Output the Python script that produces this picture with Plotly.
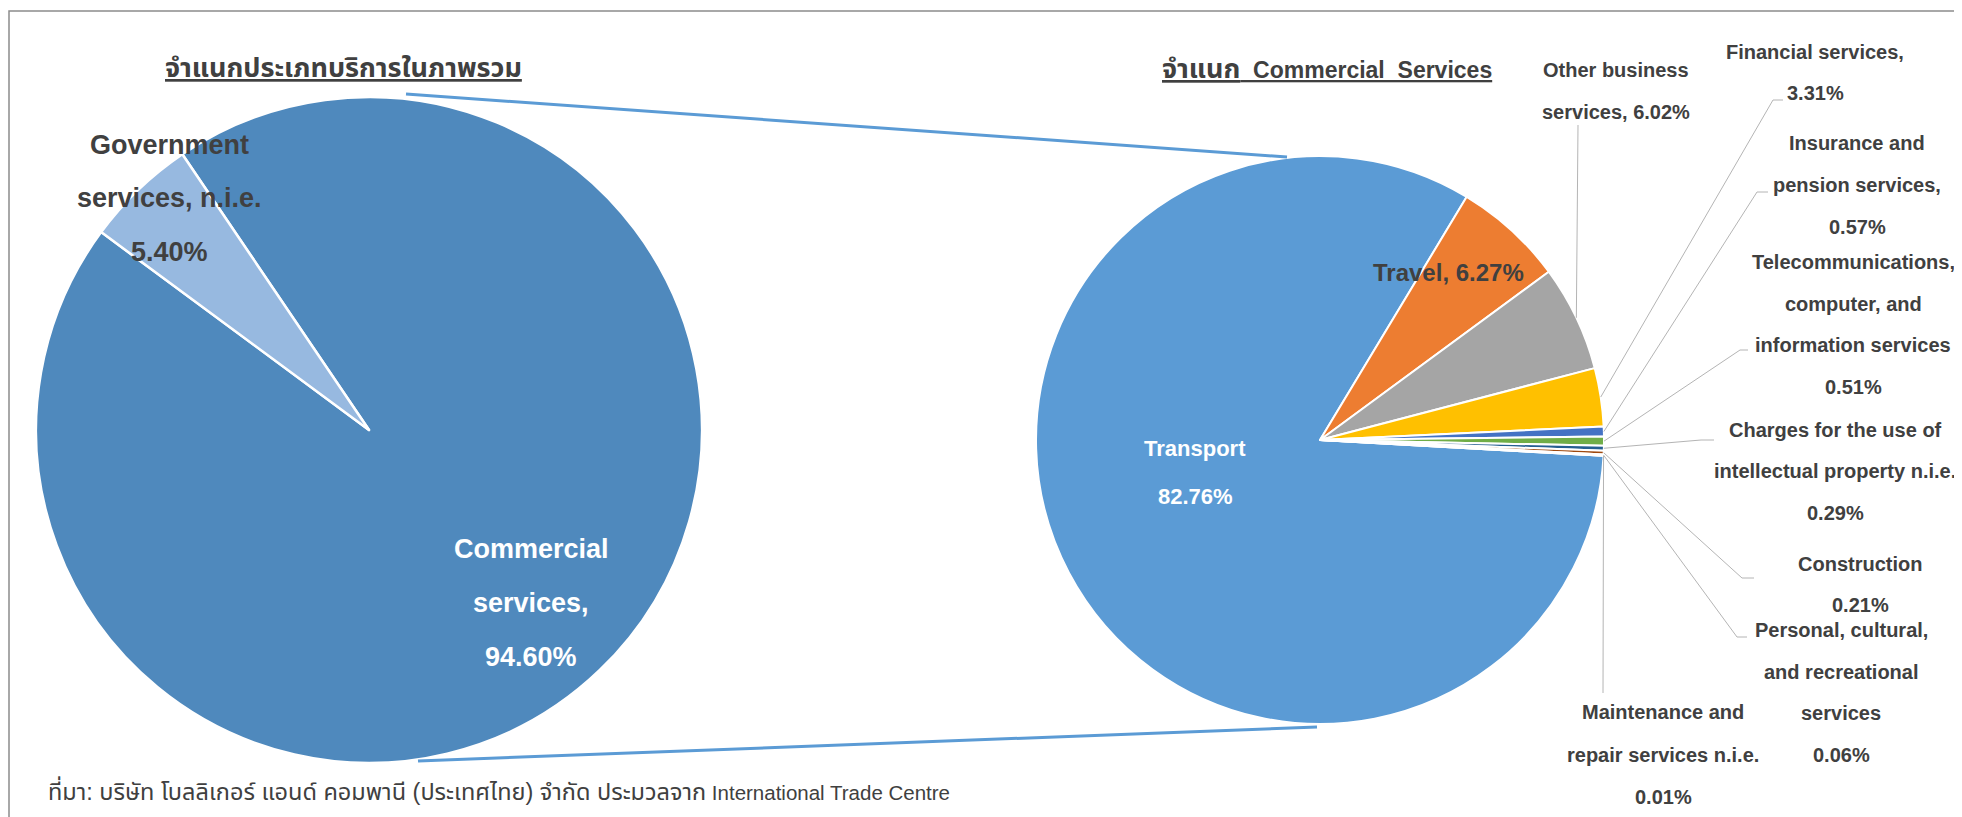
"""Thai services breakdown: overall pie and commercial-services pie."""

import math

import plotly.graph_objects as go

# page body has an 8px margin, so the figure sits at (8, 8) in the window
OFF = 8
W, H = 1962 - OFF, 817 - OFF

# overall split
overall_labels = ["Commercial services", "Government services, n.i.e."]
overall_shares = [94.60, 5.40]
overall_colors = ["#4F89BD", "#97B9E0"]

# commercial services split
commercial_labels = [
    "Transport",
    "Travel",
    "Other business services",
    "Financial services",
    "Insurance and pension services",
    "Telecommunications, computer, and information services",
    "Charges for the use of intellectual property n.i.e.",
    "Construction",
    "Personal, cultural, and recreational services",
    "Maintenance and repair services n.i.e.",
]
commercial_shares = [82.76, 6.27, 6.02, 3.31, 0.57, 0.51, 0.29, 0.21, 0.06, 0.01]
commercial_colors = ["#5B9BD5", "#ED7D31", "#A5A5A5", "#FFC000", "#4472C4",
                     "#70AD47", "#255E91", "#9E480E", "#636363", "#997300"]

# label text lines ({v} -> value)
overall_label_lines = [
    ["Commercial", "services,", "{v}"],
    ["Government", "services, n.i.e.", "{v}"],
]
commercial_label_lines = [
    ["Transport", "{v}"],
    ["Travel, {v}"],
    ["Other business", "services, {v}"],
    ["Financial services,", "{v}"],
    ["Insurance and", "pension services,", "{v}"],
    ["Telecommunications,", "computer, and", "information services", "{v}"],
    ["Charges for the use of", "intellectual property n.i.e.", "{v}"],
    ["Construction", "{v}"],
    ["Personal, cultural,", "and recreational", "services", "{v}"],
    ["Maintenance and", "repair services n.i.e.", "{v}"],
]

title_left = "จำแนกประเภทบริการในภาพรวม"
title_right_th = "จำแนก"
title_right_en = "Commercial\u00a0 Services"
source_note_th = "ที่มา: บริษัท โบลลิเกอร์ แอนด์ คอมพานี (ประเทศไทย) จำกัด ประมวลจาก"
source_note_en = "International Trade Centre"

# layout (window pixels)
LEFT_C, LEFT_R, LEFT_ROT = (369, 430), 333, -34.1
RIGHT_C, RIGHT_R, RIGHT_ROT = (1320, 440), 284, 93.2

overall_pos = [(531, 549, 54), (169, 145, 53.5)]
overall_font = [("white", 27), ("#404040", 27)]
commercial_pos = [
    (1195, 448, 49), (1448, 272, 0), (1616, 70, 42), (1815, 52, 41),
    (1857, 143, 42), (1853, 262, 41.7), (1835, 430, 41.5), (1860, 564, 41),
    (1841, 630, 41.7), (1663, 712, 42.5),
]
commercial_font = [("white", 22), ("#404040", 24)] + [("#404040", 20)] * 8
leader_points = [
    None, None,
    [(1578, 125)],
    [(1773, 100), (1783, 100)],
    [(1757, 192), (1768, 192)],
    [(1740, 350), (1748, 350)],
    [(1701, 440), (1714, 440)],
    [(1742, 578), (1754, 578)],
    [(1737, 637), (1747, 637)],
    [(1603, 693)],
]

FONT = "Liberation Sans, Arial, Noto Sans Thai, sans-serif"


def px(x):
    return (x - OFF) / W


def py(y):
    return 1 - (y - OFF) / H


def domain(center, r):
    cx, cy = center
    return dict(x=[px(cx - r), px(cx + r)], y=[py(cy + r), py(cy - r)])


def mid_point(values, i, center, r, rotation):
    total = sum(values)
    start = rotation + 360 * sum(values[:i]) / total
    ang = math.radians(start + 180 * values[i] / total)
    return center[0] + r * math.sin(ang), center[1] - r * math.cos(ang)


fig = go.Figure()
fig.add_trace(go.Pie(
    labels=overall_labels, values=overall_shares, sort=False, direction="clockwise",
    rotation=LEFT_ROT, domain=domain(LEFT_C, LEFT_R), textinfo="none", hoverinfo="skip",
    marker=dict(colors=overall_colors, line=dict(color="white", width=2.5)),
))
fig.add_trace(go.Pie(
    labels=commercial_labels, values=commercial_shares, sort=False, direction="clockwise",
    rotation=RIGHT_ROT, domain=domain(RIGHT_C, RIGHT_R), textinfo="none", hoverinfo="skip",
    marker=dict(colors=commercial_colors, line=dict(color="white", width=2)),
))

annotations = []


def add_lines(lines, value, pos, color, size):
    x, y0, dy = pos
    for k, line in enumerate(lines):
        annotations.append(dict(
            x=px(x), y=py(y0 + k * dy), xref="paper", yref="paper",
            text="<b>" + line.format(v=f"{value:.2f}%") + "</b>", showarrow=False,
            xanchor="center", yanchor="middle", font=dict(family=FONT, size=size, color=color),
        ))


for lines, v, pos, (col, sz) in zip(overall_label_lines, overall_shares, overall_pos, overall_font):
    add_lines(lines, v, pos, col, sz)
for lines, v, pos, (col, sz) in zip(commercial_label_lines, commercial_shares, commercial_pos,
                                    commercial_font):
    add_lines(lines, v, pos, col, sz)

annotations += [
    dict(x=px(343), y=py(68), xref="paper", yref="paper", showarrow=False,
         xanchor="center", yanchor="middle",
         text=f"<b><u>{title_left}</u></b>", font=dict(family=FONT, size=27, color="#404040")),
    dict(x=px(1327), y=py(69), xref="paper", yref="paper", showarrow=False,
         xanchor="center", yanchor="middle",
         text=(f"<b><u><span style='font-size:27px'>{title_right_th}</span>"
               f"\u00a0 {title_right_en}</u></b>"),
         font=dict(family=FONT, size=23, color="#404040")),
    dict(x=px(46), y=py(790), xref="paper", yref="paper", showarrow=False,
         xanchor="left", yanchor="middle",
         text=f"<span style='font-size:23.5px'>{source_note_th}</span> {source_note_en}",
         font=dict(family=FONT, size=20.5, color="#404040")),
]

shapes = [
    # chart frame
    dict(type="rect", xref="paper", yref="paper", x0=px(9), y0=py(11), x1=px(1990),
         y1=py(850), line=dict(color="#8C8C8C", width=1.5)),
    # connectors between the pies
    dict(type="line", xref="paper", yref="paper", x0=px(406), y0=py(94), x1=px(1287),
         y1=py(157), line=dict(color="#5B9BD5", width=3)),
    dict(type="line", xref="paper", yref="paper", x0=px(418), y0=py(761), x1=px(1317),
         y1=py(727), line=dict(color="#5B9BD5", width=3)),
]

for i, pts in enumerate(leader_points):
    if not pts:
        continue
    sx, sy = mid_point(commercial_shares, i, RIGHT_C, RIGHT_R, RIGHT_ROT)
    path = f"M {px(sx)},{py(sy)}" + "".join(f" L {px(x)},{py(y)}" for x, y in pts)
    shapes.append(dict(type="path", xref="paper", yref="paper", path=path,
                       line=dict(color="#B4B4B4", width=1)))

fig.update_layout(
    width=W, height=H, margin=dict(l=0, r=0, t=0, b=0),
    paper_bgcolor="white", plot_bgcolor="white", showlegend=False,
    annotations=annotations, shapes=shapes,
)

fig.write_html("out.html")
